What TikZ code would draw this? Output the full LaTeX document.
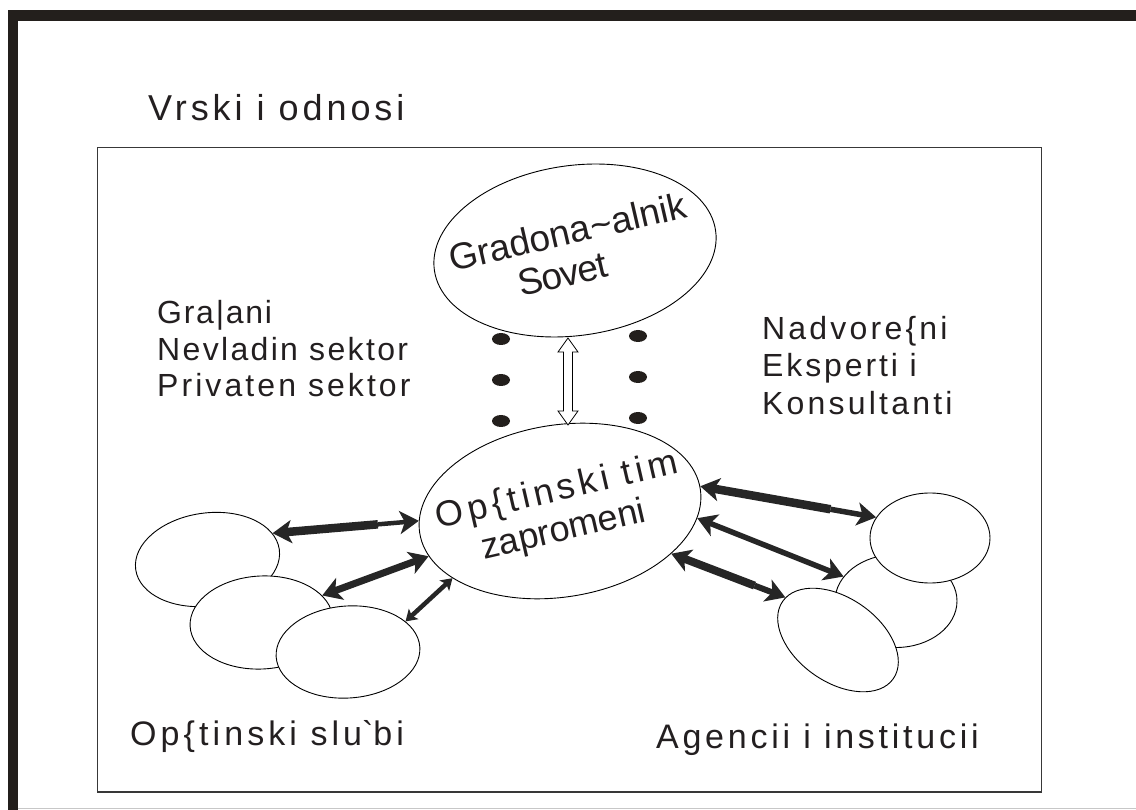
\documentclass[tikz,border=0pt]{standalone}
\usepackage{fontspec}
\setmainfont{Liberation Sans}
\usetikzlibrary{arrows.meta,calc,shapes.geometric}
\definecolor{framecol}{HTML}{231F1C}
\definecolor{ink}{HTML}{262626}
\definecolor{txt}{HTML}{231F20}
\tikzset{
  big/.tip={Stealth[length=19pt,width=23pt,inset=5pt]},
  sml/.tip={Stealth[length=11pt,width=14pt,inset=2.5pt]}
}
\begin{document}
\begin{tikzpicture}[x=1pt,y=-1pt,
  ell/.style={ellipse, draw=black, line width=0.9pt, fill=white, inner sep=0pt},
  lbl/.style={anchor=base west, inner sep=0pt, text=txt},
  intext/.style={anchor=center, inner sep=0pt, text=txt, align=left},
  dotnode/.style={ellipse, fill=framecol, minimum width=18pt, minimum height=12pt, inner sep=0pt},
  blk/.style={draw=ink, line cap=butt},
  openarrow/.style={fill=white, draw=black, line width=0.8pt, line join=miter}
]
\useasboundingbox (0,0) rectangle (1136,810);
% outer frame
\fill[framecol] (8,10) rectangle (1136,21);
\fill[framecol] (8,10) rectangle (18,810);
\draw[black!22, line width=1.5pt] (18,808.5) -- (1136,808.5);
% inner frame
\draw[black!78, line width=1.3pt] (97.5,147.5) rectangle (1041.5,792);

% title
\node[lbl, font=\fontsize{36}{40}\selectfont\addfontfeature{LetterSpace=11}] (title) at (148,121) {Vrski i odnosi};

% left ellipses
\node[ell, minimum width=145pt, minimum height=93pt, rotate=8] (E1) at (207.5,559.5) {};
\node[ell, minimum width=143pt, minimum height=93pt, rotate=3] (E2) at (261.5,622.5) {};
\node[ell, minimum width=144pt, minimum height=92pt, rotate=4] (E3) at (348,652) {};
% right ellipses
\node[ell, minimum width=122pt, minimum height=93pt] (R2) at (896,601) {};
\node[ell, minimum width=120pt, minimum height=90pt] (R1) at (930,538) {};
\node[ell, minimum width=135pt, minimum height=84pt, rotate=-35] (R3) at (838,640) {};

% main ellipses
\node[ell, minimum width=284pt, minimum height=170pt, rotate=8] (T) at (575,250.5) {};
\node[ell, minimum width=284pt, minimum height=172pt, rotate=9] (C) at (560,511) {};

% ellipse texts
\node[intext, rotate=13, font=\fontsize{37}{40}\selectfont] (tT) at (572,251)
  {Gradona\textasciitilde{}alnik\\\hspace*{61pt}{\addfontfeature{LetterSpace=-3}Sovet}};
\node[intext, rotate=13, font=\fontsize{36}{40}\selectfont] (tC) at (562,511)
  {{\addfontfeature{LetterSpace=12}Op\{tinski tim}\\\hspace*{37pt}zapromeni};

% side labels
\node[lbl, font=\fontsize{32}{38}\selectfont\addfontfeature{LetterSpace=5.5}] (g1) at (157,324) {Gra\textbar{}ani};
\node[lbl, font=\fontsize{32}{38}\selectfont\addfontfeature{LetterSpace=7.3}] (g2) at (157,361) {Nevladin sektor};
\node[lbl, font=\fontsize{32}{38}\selectfont\addfontfeature{LetterSpace=9.6}] (g3) at (157,397) {Privaten sektor};
\node[lbl, font=\fontsize{32}{38}\selectfont\addfontfeature{LetterSpace=10}] (n1) at (762,340) {Nadvore\{ni};
\node[lbl, font=\fontsize{32}{38}\selectfont\addfontfeature{LetterSpace=9}] (n2) at (762,377) {Eksperti i};
\node[lbl, font=\fontsize{32}{38}\selectfont\addfontfeature{LetterSpace=10}] (n3) at (762,414) {Konsultanti};

% bottom labels
\node[lbl, font=\fontsize{34}{40}\selectfont\addfontfeature{LetterSpace=12}] (b1) at (130,745) {Op\{tinski slu\textasciigrave{}bi};
\node[lbl, font=\fontsize{34}{40}\selectfont\addfontfeature{LetterSpace=11}] (b2) at (656,748) {Agencii i institucii};

% dots
\node[dotnode] (dl1) at (501,339) {};
\node[dotnode] (dl2) at (501,380) {};
\node[dotnode] (dl3) at (501,421) {};
\node[dotnode] (dr1) at (638,336) {};
\node[dotnode] (dr2) at (638,377) {};
\node[dotnode] (dr3) at (638,418) {};

% open double arrow between T and C
\coordinate (vt) at (568,338);
\coordinate (vb) at (568,425);
\draw[openarrow] (vt) -- ($(vt)+(10,14)$) -- ($(vt)+(4.5,14)$) -- ($(vb)+(4.5,-14)$) -- ($(vb)+(10,-14)$) -- (vb)
  -- ($(vb)+(-10,-14)$) -- ($(vb)+(-4.5,-14)$) -- ($(vt)+(-4.5,14)$) -- ($(vt)+(-10,14)$) -- cycle;

% left arrows
\draw[blk, line width=8.5pt, {big}-] (E1.14) -- ($(E1.14)!.72!(C.175)$) coordinate (a1m);
\draw[blk, line width=4.5pt, -{big}] (a1m) -- (C.175);
\draw[blk, line width=7pt, {big}-{big}] (E2.21) -- (C.190);
\draw[blk, line width=4.5pt, {sml}-{sml}] (E3.24) -- (C.203);

% right arrows
\draw[blk, line width=8.5pt, {big}-] (C.1) -- ($(C.1)!.74!(R1.159)$) coordinate (b1m);
\draw[blk, line width=5.5pt, -{big}] (b1m) -- (R1.159);
\draw[blk, line width=5.5pt, {big}-{big}] (C.348) -- (R2.155);
\draw[blk, line width=8pt, {big}-] (C.330) -- ($(C.330)!.73!(R3.176)$) coordinate (b3m);
\draw[blk, line width=6pt, -{big}] (b3m) -- (R3.176);
\end{tikzpicture}
\end{document}
